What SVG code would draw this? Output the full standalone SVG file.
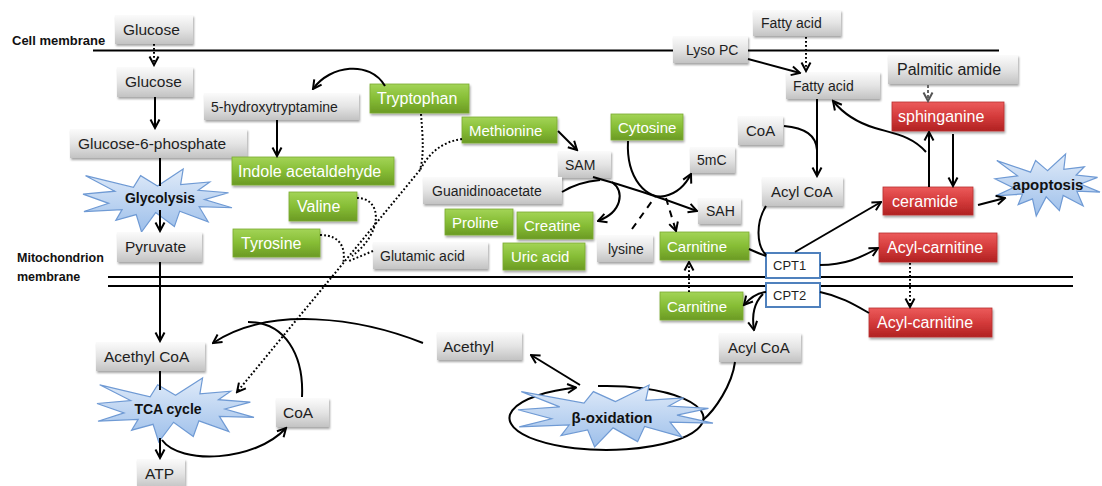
<svg xmlns="http://www.w3.org/2000/svg" xmlns:xlink="http://www.w3.org/1999/xlink" width="1102" height="486" viewBox="0 0 1102 486">
<defs>
<linearGradient id="gGrey" x1="0" y1="0" x2="0" y2="1"><stop offset="0" stop-color="#fbfbfb"/><stop offset="0.5" stop-color="#e4e4e4"/><stop offset="1" stop-color="#c3c3c3"/></linearGradient>
<linearGradient id="gGreen" x1="0" y1="0" x2="0" y2="1"><stop offset="0" stop-color="#a3d457"/><stop offset="0.5" stop-color="#86bd35"/><stop offset="1" stop-color="#6b9a24"/></linearGradient>
<linearGradient id="gRed" x1="0" y1="0" x2="0" y2="1"><stop offset="0" stop-color="#ec5b5b"/><stop offset="0.5" stop-color="#d43b3b"/><stop offset="1" stop-color="#b02222"/></linearGradient>
<linearGradient id="gStar" x1="0" y1="0" x2="0" y2="1"><stop offset="0" stop-color="#e0ebf9"/><stop offset="1" stop-color="#9dbfea"/></linearGradient>
<filter id="sh" x="-10%" y="-20%" width="125%" height="160%"><feDropShadow dx="1" dy="2" stdDeviation="1.2" flood-color="#000" flood-opacity="0.35"/></filter>
<polygon id="seal" vector-effect="non-scaling-stroke" points="108,58 83.52,22.95 73.12,63.2 3.7,22.95 46.27,76.17 0,86.15 37.22,117.75 1.35,145.87 56.67,139.37 47.62,176.17 77.15,156.27 84.85,216 105.32,149.35 132.47,197.37 140.2,144.57 181.45,180.95 168.37,129.42 216,132.9 176.07,104.75 210.97,81.37 167.02,73.15 183.8,44.57 141.55,53.25 145.22,0"/>
<marker id="ar" markerUnits="userSpaceOnUse" markerWidth="12" markerHeight="12" viewBox="0 0 12 12" refX="10.5" refY="6" orient="auto"><path d="M2,1.5 L10.5,6 L2,10.5" fill="none" stroke="#000" stroke-width="2" stroke-linejoin="miter"/></marker>
<marker id="arg" markerUnits="userSpaceOnUse" markerWidth="12" markerHeight="12" viewBox="0 0 12 12" refX="10.5" refY="6" orient="auto"><path d="M2,1.5 L10.5,6 L2,10.5" fill="none" stroke="#555" stroke-width="2"/></marker>
<style>
.grey rect{fill:url(#gGrey);filter:url(#sh);}
.green rect{fill:url(#gGreen);stroke:#7aab30;stroke-width:0.8;filter:url(#sh);}
.red rect{fill:url(#gRed);stroke:#b83030;stroke-width:0.8;filter:url(#sh);}
.cpt rect{fill:#fff;stroke:#4f81bd;stroke-width:2;}
.star use{fill:url(#gStar);stroke:#6f9ad4;stroke-width:1.2;}
text{font-family:"Liberation Sans",Arial,sans-serif;}
.grey text{fill:#1e1e1e;}
.green text,.red text{fill:#fff;}
.cpt text{fill:#1e1e1e;font-size:13px;}
.star text{font-weight:bold;fill:#111;text-anchor:middle;}
.lbl{font-weight:bold;fill:#111;}
.mem{stroke:#000;stroke-width:2;fill:none;}
.conn path{fill:none;stroke:#000;stroke-width:2;}
.conn .dot{stroke-dasharray:1.8 2.2;}
.conn .dash{stroke-dasharray:7 6;}
.conn .gdash{stroke:#666;stroke-dasharray:3 2;}
.a{marker-end:url(#ar);}
</style>
</defs>
<rect width="1102" height="486" fill="#fff"/>

<!-- membranes -->
<line class="mem" x1="93" y1="50.5" x2="999" y2="50.5"/>
<line class="mem" x1="108" y1="277" x2="1073" y2="277"/>
<line class="mem" x1="108" y1="286" x2="1073" y2="286"/>
<text class="lbl" x="12" y="45" font-size="13">Cell membrane</text>
<text class="lbl" x="17" y="262" font-size="12.5">Mitochondrion</text>
<text class="lbl" x="17" y="281" font-size="12.5">membrane</text>

<!-- stars -->
<g id="glycolysis" class="star"><use href="#seal" transform="translate(83,169) scale(0.6898,0.2917)"/><text x="160" y="203" font-size="14">Glycolysis</text></g>
<g id="tca" class="star"><use href="#seal" transform="translate(97,378) scale(0.7269,0.2963)"/><text x="168" y="414" font-size="14">TCA cycle</text></g>
<g id="apoptosis" class="star"><use href="#seal" transform="translate(995,154) scale(0.4861,0.2870)"/><text x="1048" y="190" font-size="15">apoptosis</text></g>

<!-- beta-oxidation cycle arrow drawn under star -->
<g id="cycle-connector" class="conn">
<path class="a" d="M598,386.1 A97,32 0 1,1 576,387.6"/>
</g>
<g id="betaox" class="star"><use href="#seal" transform="translate(518,385) scale(0.9028,0.2870)"/><text x="612" y="423" font-size="15">β-oxidation</text></g>

<!-- grey nodes -->
<g id="glucose1" class="grey"><rect x="115" y="15" width="78" height="29"/><text x="123" y="35" font-size="15.5">Glucose</text></g>
<g id="glucose2" class="grey"><rect x="117" y="67" width="76" height="30"/><text x="125" y="87" font-size="15.5">Glucose</text></g>
<g id="g6p" class="grey"><rect x="70" y="129" width="177" height="29"/><text x="78" y="149" font-size="15.5">Glucose-6-phosphate</text></g>
<g id="pyruvate" class="grey"><rect x="117" y="232" width="85" height="30"/><text x="125" y="252" font-size="15.5">Pyruvate</text></g>
<g id="acethylcoa" class="grey"><rect x="96" y="342" width="109" height="29"/><text x="104" y="362" font-size="15.5">Acethyl CoA</text></g>
<g id="coa-low" class="grey"><rect x="276" y="398" width="53" height="29"/><text x="283" y="418" font-size="15.5">CoA</text></g>
<g id="atp" class="grey"><rect x="137" y="459" width="48" height="29"/><text x="145" y="479" font-size="15.5">ATP</text></g>
<g id="hydroxytryptamine" class="grey"><rect x="204" y="93" width="155" height="27"/><text x="211" y="111.5" font-size="14">5-hydroxytryptamine</text></g>
<g id="sam" class="grey"><rect x="558" y="151" width="53" height="27"/><text x="565" y="169.5" font-size="14">SAM</text></g>
<g id="m5c" class="grey"><rect x="690" y="147" width="45" height="26"/><text x="697" y="165" font-size="14">5mC</text></g>
<g id="guanidinoacetate" class="grey"><rect x="423" y="177" width="139" height="27"/><text x="432" y="195.5" font-size="14">Guanidinoacetate</text></g>
<g id="sah" class="grey"><rect x="698" y="198" width="43" height="26"/><text x="706" y="216" font-size="14">SAH</text></g>
<g id="glutamic" class="grey"><rect x="373" y="242" width="115" height="27"/><text x="380" y="260.5" font-size="14">Glutamic acid</text></g>
<g id="lysine" class="grey"><rect x="597" y="235" width="56" height="27"/><text x="608" y="253.5" font-size="14">lysine</text></g>
<g id="lysopc" class="grey"><rect x="673" y="36" width="75" height="27"/><text x="686" y="54.5" font-size="14">Lyso PC</text></g>
<g id="fattyacid1" class="grey"><rect x="753" y="10" width="88" height="26"/><text x="761" y="28" font-size="14">Fatty acid</text></g>
<g id="fattyacid2" class="grey"><rect x="786" y="72" width="94" height="27"/><text x="793" y="90.5" font-size="14">Fatty acid</text></g>
<g id="palmitic" class="grey"><rect x="888" y="55" width="130" height="29"/><text x="897" y="75" font-size="16">Palmitic amide</text></g>
<g id="coa-up" class="grey"><rect x="738" y="116" width="45" height="29"/><text x="746" y="136" font-size="15">CoA</text></g>
<g id="acylcoa1" class="grey"><rect x="762" y="177" width="81" height="29"/><text x="771" y="197" font-size="15">Acyl CoA</text></g>
<g id="acylcoa2" class="grey"><rect x="719" y="333" width="82" height="29"/><text x="728" y="353" font-size="15">Acyl CoA</text></g>
<g id="acethyl" class="grey"><rect x="437" y="332" width="85" height="28"/><text x="443" y="351.5" font-size="15.5">Acethyl</text></g>

<!-- green nodes -->
<g id="tryptophan" class="green"><rect x="370" y="84" width="99" height="29"/><text x="377" y="104" font-size="16">Tryptophan</text></g>
<g id="indole" class="green"><rect x="232" y="157" width="162" height="28"/><text x="238" y="176.5" font-size="16">Indole acetaldehyde</text></g>
<g id="valine" class="green"><rect x="289" y="192" width="68" height="29"/><text x="297" y="212" font-size="16">Valine</text></g>
<g id="tyrosine" class="green"><rect x="233" y="229" width="87" height="28"/><text x="241" y="248.5" font-size="16">Tyrosine</text></g>
<g id="methionine" class="green"><rect x="462" y="117" width="95" height="26"/><text x="469" y="135.5" font-size="15">Methionine</text></g>
<g id="cytosine" class="green"><rect x="611" y="114" width="72" height="26"/><text x="618" y="132.5" font-size="15">Cytosine</text></g>
<g id="proline" class="green"><rect x="445" y="209" width="68" height="26"/><text x="452" y="227.5" font-size="15">Proline</text></g>
<g id="creatine" class="green"><rect x="517" y="212" width="76" height="27"/><text x="524" y="231" font-size="15">Creatine</text></g>
<g id="uric" class="green"><rect x="503" y="243" width="82" height="27"/><text x="511" y="262" font-size="15">Uric acid</text></g>
<g id="carnitine1" class="green"><rect x="660" y="232" width="89" height="28"/><text x="667" y="251.5" font-size="15">Carnitine</text></g>
<g id="carnitine2" class="green"><rect x="660" y="292" width="83" height="28"/><text x="667" y="311.5" font-size="15">Carnitine</text></g>

<!-- red nodes -->
<g id="sphinganine" class="red"><rect x="892" y="102" width="112" height="29"/><text x="898" y="122" font-size="16">sphinganine</text></g>
<g id="ceramide" class="red"><rect x="883" y="187" width="90" height="28"/><text x="892" y="206.5" font-size="16">ceramide</text></g>
<g id="acylcarnitine1" class="red"><rect x="879" y="233" width="118" height="29"/><text x="887" y="253" font-size="16">Acyl-carnitine</text></g>
<g id="acylcarnitine2" class="red"><rect x="869" y="308" width="123" height="29"/><text x="877" y="328" font-size="16">Acyl-carnitine</text></g>

<!-- CPT -->
<g id="cpt1" class="cpt"><rect x="766" y="253" width="54" height="25"/><text x="773" y="270">CPT1</text></g>
<g id="cpt2" class="cpt"><rect x="766" y="283" width="54" height="24"/><text x="773" y="300">CPT2</text></g>

<g id="connectors" class="conn">
<path class="dot a" d="M154,44 L154,65"/>
<path class="a" d="M155,97 L155,128"/>
<path d="M160,158 L160,186"/>
<path class="a" d="M160,210 L160,231"/>
<path class="a" d="M160,262 L160,341"/>
<path d="M160,371 L160,390"/>
<path class="a" d="M160,438 L160,458"/>
<path class="a" d="M162,440 C180,465 255,462 286,428"/>
<path class="a" d="M423,343 C360,318 270,305 213,343"/>
<path d="M302,397 C304,355 285,322 248,322"/>
<path class="a" d="M385,86 C370,60 330,65 313,89"/>
<path class="a" d="M277,120 L277,156"/>
<path class="a" d="M558,131 L577,150"/>
<path class="dot" d="M421,114 C423,140 424,155 420,170"/>
<path class="dot" d="M462,139 C440,142 428,155 420,170"/>
<path class="dot a" d="M420,170 L237,392"/>
<path class="dot" d="M357,198 C382,198 384,232 352,256"/>
<path class="dot" d="M373,251 L349,261"/>
<path class="dot" d="M320,235 C342,235 346,250 343,264"/>
<path class="a" d="M593,177 Q640,190 697,211"/>
<path d="M562,192 Q578,182 600,180"/>
<path class="a" d="M612,182 C625,192 622,212 598,221"/>
<path class="a" d="M628,141 C626,180 648,200 665,196 C678,193 686,184 691,174"/>
<path class="dash" d="M632,229 L655,197"/>
<path class="dash a" d="M666,198 L676,231"/>
<path class="dot a" d="M689,292 L689,262"/>
<path class="dot a" d="M806,37 L806,71"/>
<path class="a" d="M748,59 L800,73"/>
<path class="a" d="M817,99 L817,176"/>
<path d="M784,126 C805,128 816,135 817,150"/>
<path class="gdash" marker-end="url(#arg)" d="M928,85 L928,101"/>
<path class="a" d="M929,187 L929,132"/>
<path class="a" d="M953,134 L953,186"/>
<path class="a" d="M926,152 C912,136 895,134 875,128 C855,122 842,112 833,101"/>
<path class="a" d="M978,205 L1005,198"/>
<path d="M766,206 C756,222 756,245 766,255"/>
<path d="M749,249 C756,252 760,254 766,256"/>
<path class="a" d="M795,252 L881,202"/>
<path class="a" d="M820,265 C845,265 860,258 878,248"/>
<path class="dot a" d="M910,263 L910,307"/>
<path d="M820,292 C840,296 855,305 869,313"/>
<path class="a" d="M766,292 C757,293 750,298 744,305"/>
<path class="a" d="M763,294 C752,305 752,318 754,330"/>
<path d="M735,362 C732,385 715,410 703,420"/>
<path class="a" d="M580,385 L531,355"/>
</g>
</svg>
